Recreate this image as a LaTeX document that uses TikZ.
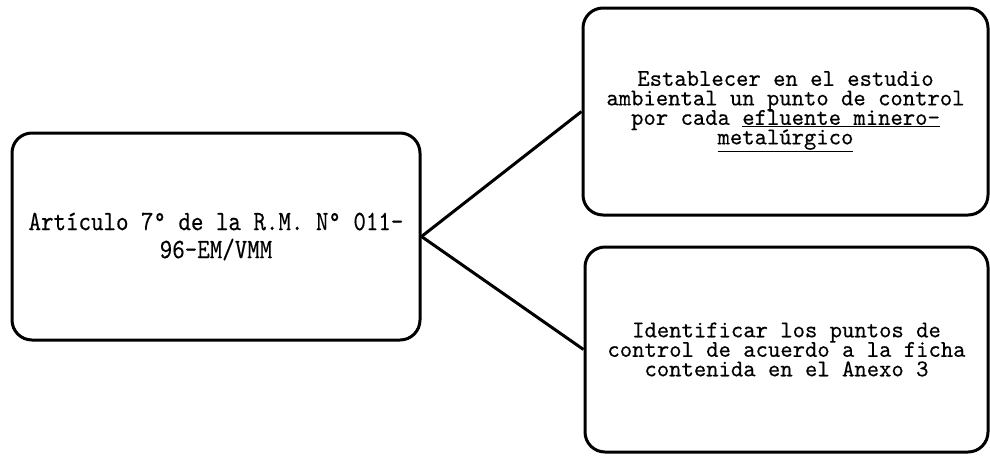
\documentclass[tikz,border=0pt]{standalone}
\usepackage{fontspec}
\newfontfamily\monoA{lmmono10-regular.otf}[FakeStretch=0.98,FakeBold=0.3]
\newfontfamily\monoB{lmmono10-regular.otf}[FakeStretch=0.85,FakeBold=0.3]
\begin{document}
\begin{tikzpicture}[x=1pt,y=-1pt,
  box/.style={draw=black, line width=3pt, rounded corners=20pt, align=center, inner sep=0pt},
  boxfont/.style={font={\monoA\fontsize{24}{19.5}\selectfont\lineskiplimit=-100pt}},
  bigfont/.style={font={\monoB\fontsize{28}{28}\selectfont\lineskiplimit=-100pt}},
  link/.style={draw=black, line width=3pt}]
\useasboundingbox (0,0) rectangle (990,456);
\node[box, bigfont, minimum width=408pt, minimum height=207pt] (art) at (216,236.5)
  {Artículo 7° de la R.M. N° 011-\\96-EM/VMM};
\node[box, boxfont, minimum width=405pt, minimum height=207pt] (est) at (785.5,111.5)
  {Establecer en el estudio\\ambiental un punto de control\\por cada \underline{efluente minero-}\\\underline{metalúrgico}};
\node[box, boxfont, minimum width=403pt, minimum height=205pt] (ide) at (786.5,349.5)
  {Identificar los puntos de\\control de acuerdo a la ficha\\contenida en el Anexo 3};
\draw[link] (art.east) -- (est.west);
\draw[link] (art.east) -- (ide.west);
\end{tikzpicture}
\end{document}
